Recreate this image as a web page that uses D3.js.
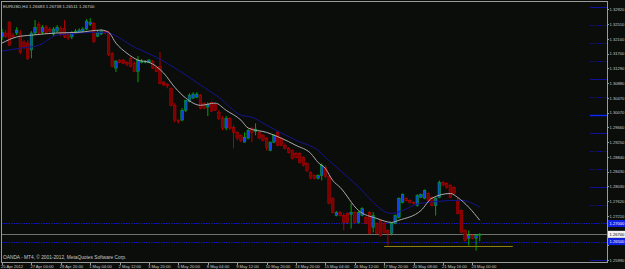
<!DOCTYPE html>
<html>
<head>
<meta charset="utf-8">
<script src="https://cdn.jsdelivr.net/npm/d3@7"></script>
<style>
  html, body { margin: 0; padding: 0; background: #0b0d0b; }
  svg { display: block; }
  text { font-family: "Liberation Sans", "DejaVu Sans", sans-serif; }
</style>
</head>
<body>
<svg width="625" height="269"></svg>
<script>
// --- EURUSD H4 bars ---
const openP = [1.3216,1.3227,1.3257,1.3221,1.3227,1.3227,1.3202,1.3199,1.3180,1.3227,
  1.3251,1.3229,1.3243,1.3238,1.3224,1.3232,1.3240,1.3240,1.3224,1.3216,
  1.3227,1.3229,1.3232,1.3238,1.3251,1.3254,1.3218,1.3224,1.3232,1.3229,
  1.3171,1.3130,1.3152,1.3152,1.3146,1.3157,1.3143,1.3121,1.3146,1.3146,
  1.3146,1.3149,1.3132,1.3135,1.3091,1.3085,1.3074,1.3027,1.2986,1.2986,1.3013,
  1.3038,1.3047,1.3049,1.3055,1.3033,1.3022,1.3035,1.3030,1.3008,1.2991,
  1.2964,1.2991,1.2966,1.2952,1.2944,1.2925,1.2936,1.2964,1.2955,1.2952,
  1.2944,1.2936,1.2902,1.2925,1.2952,1.2936,1.2916,1.2908,1.2902,1.2894,
  1.2894,1.2883,1.2866,1.2842,1.2833,1.2825,1.2833,1.2855,1.2830,1.2770,1.2722,
  1.2731,1.2722,1.2728,1.2725,1.2731,1.2703,1.2722,1.2717,1.2731,1.2689,
  1.2700,1.2709,1.2700,1.2681,1.2673,1.2700,1.2717,1.2758,1.2770,1.2764,
  1.2758,1.2750,1.2772,1.2770,1.2783,1.2772,1.2750,1.2772,1.2814,1.2811,
  1.2806,1.2800,1.2764,1.2736,1.2681,1.2659,1.2667,1.2659,1.26683];
const highP = [1.3238,1.3235,1.3260,1.3227,1.3243,1.3235,1.3207,1.3207,1.3232,1.3263,
  1.3257,1.3249,1.3249,1.3243,1.3243,1.3249,1.3246,1.3263,1.3229,1.3232,
  1.3238,1.3240,1.3243,1.3265,1.3268,1.3257,1.3235,1.3238,1.3235,1.3232,
  1.3174,1.3152,1.3155,1.3155,1.3149,1.3160,1.3149,1.3163,1.3155,1.3152,
  1.3155,1.3152,1.3135,1.3174,1.3094,1.3088,1.3077,1.3033,1.2988,1.3019,1.3041,
  1.3060,1.3063,1.3063,1.3058,1.3035,1.3035,1.3038,1.3033,1.3013,1.2997,
  1.2997,1.2994,1.2972,1.2955,1.2947,1.2952,1.2961,1.2966,1.2977,1.2955,
  1.2947,1.2939,1.2927,1.2947,1.2955,1.2939,1.2922,1.2911,1.2905,1.2897,
  1.2897,1.2886,1.2869,1.2844,1.2836,1.2836,1.2866,1.2861,1.2833,1.2772,1.2734,
  1.2734,1.2728,1.2731,1.2756,1.2734,1.2734,1.2745,1.2720,1.2734,1.2731,
  1.2703,1.2711,1.2703,1.2684,1.2703,1.2725,1.2772,1.2783,1.2772,1.2767,
  1.2761,1.2781,1.2783,1.2794,1.2786,1.2775,1.2772,1.2819,1.2817,1.2814,
  1.2808,1.2803,1.2772,1.2739,1.2684,1.2681,1.2670,1.2670,1.26738];
const lowP = [1.3207,1.3213,1.3191,1.3213,1.3221,1.3168,1.3182,1.3152,1.3157,1.3221,
  1.3221,1.3224,1.3224,1.3227,1.3218,1.3227,1.3218,1.3213,1.3207,1.3210,
  1.3224,1.3227,1.3229,1.3235,1.3246,1.3199,1.3216,1.3221,1.3224,1.3163,
  1.3132,1.3119,1.3143,1.3141,1.3135,1.3132,1.3119,1.3091,1.3143,1.3143,
  1.3143,1.3127,1.3119,1.3085,1.3080,1.3074,1.3024,1.2980,1.2977,1.2983,1.3008,
  1.3035,1.3044,1.3047,1.3016,1.3016,1.2997,1.3008,1.3011,1.2986,1.2958,
  1.2958,1.2958,1.2908,1.2930,1.2925,1.2925,1.2933,1.2925,1.2944,1.2933,
  1.2927,1.2902,1.2900,1.2922,1.2914,1.2914,1.2905,1.2894,1.2877,1.2880,
  1.2866,1.2858,1.2842,1.2822,1.2822,1.2822,1.2819,1.2825,1.2753,1.2728,1.2720,
  1.2720,1.2681,1.2698,1.2686,1.2700,1.2700,1.2720,1.2698,1.2670,1.2675,
  1.2670,1.2664,1.2673,1.2639,1.2667,1.2698,1.2714,1.2756,1.2761,1.2756,
  1.2753,1.2747,1.2770,1.2767,1.2761,1.2747,1.2722,1.2770,1.2803,1.2797,
  1.2770,1.2781,1.2725,1.2673,1.2650,1.2639,1.2656,1.2625,1.26511];
const closeP = [1.3229,1.3218,1.3193,1.3218,1.3235,1.3174,1.3188,1.3157,1.3227,1.3243,
  1.3227,1.3243,1.3229,1.3232,1.3238,1.3243,1.3224,1.3218,1.3213,1.3227,
  1.3232,1.3235,1.3238,1.3260,1.3257,1.3204,1.3229,1.3232,1.3227,1.3168,
  1.3135,1.3149,1.3146,1.3143,1.3141,1.3135,1.3121,1.3152,1.3149,1.3149,
  1.3152,1.3130,1.3121,1.3088,1.3083,1.3080,1.3027,1.2986,1.2983,1.3013,1.3041,
  1.3055,1.3058,1.3058,1.3019,1.3019,1.3030,1.3011,1.3013,1.2991,1.2964,
  1.2991,1.2964,1.2952,1.2936,1.2930,1.2939,1.2958,1.2952,1.2961,1.2936,
  1.2930,1.2911,1.2925,1.2944,1.2916,1.2916,1.2908,1.2897,1.2880,1.2883,
  1.2869,1.2861,1.2847,1.2828,1.2825,1.2833,1.2861,1.2830,1.2756,1.2731,1.2731,
  1.2722,1.2703,1.2703,1.2731,1.2703,1.2731,1.2742,1.2700,1.2673,1.2722,
  1.2673,1.2667,1.2675,1.2673,1.2700,1.2722,1.2770,1.2781,1.2764,1.2758,
  1.2756,1.2778,1.2781,1.2792,1.2764,1.2750,1.2770,1.2814,1.2806,1.2800,
  1.2772,1.2783,1.2728,1.2675,1.2653,1.2667,1.2659,1.2667,1.26700];

// moving averages, [bar, price]
const fastMA = [[0,1.3199],[4,1.3216],[8,1.3221],[15,1.3227],[21,1.3229],[27,1.3235],
  [29,1.3229],[31,1.3199],[34,1.3171],[37,1.3152],[40,1.3146],[44,1.3116],[47,1.3077],
  [50,1.3047],[54,1.3027],[58,1.3033],[61,1.3013],[65,1.2986],[67,1.2964],[72,1.2952],
  [76,1.2936],[80,1.2916],[84,1.2894],[86,1.2869],[88,1.2852],[90,1.2819],[92,1.2800],
  [97,1.2736],[102,1.2714],[106,1.2703],[108,1.2709],[114,1.2736],[117,1.2770],
  [122,1.2783],[124,1.2772],[127,1.2745],[130,1.2709]];
const slowMA = [[0,1.3177],[5,1.3185],[10,1.3193],[15,1.3221],[27,1.3229],[29,1.3227],
  [36,1.3188],[42,1.3160],[48,1.3124],[54,1.3083],[59,1.3049],[65,1.3000],[68,1.2994],
  [72,1.2972],[80,1.2930],[86,1.2902],[88,1.2883],[92,1.2847],[96,1.2811],[106,1.2728],
  [114,1.2756],[125,1.2764],[130,1.2745]];

const priceTicks = ["1.32920","1.32510","1.32100","1.31700","1.31290","1.30880","1.30470",
  "1.30070","1.29660","1.29250","1.28840","1.28430","1.28030","1.27620","1.27210",
  "1.26800","1.26400","1.25990"];
const timeTicks = ["25 Apr 2012","27 Apr 00:00","29 Apr 20:00","1 May 04:00","2 May 12:00",
  "3 May 20:00","6 May 20:00","8 May 04:00","9 May 12:00","10 May 20:00","13 May 20:00",
  "15 May 04:00","16 May 12:00","17 May 20:00","20 May 08:00","21 May 16:00","23 May 00:00"];

// round-number levels drawn at the price scale, and the two long ones
const roundLevels = [1.3300,1.3250,1.3200,1.3150,1.3100,1.3050,1.3000,1.2950,
  1.2900,1.2850,1.2800,1.2750,1.2600];
const fullLevels = [1.2700, 1.2650];
const bidPrice = 1.26700;
const supportLine = { fromBar: 104, toBar: 139, price: 1.2639 };
const headerText = "EURUSD,H4  1.26683 1.26738 1.26511 1.26700";
const footerText = "OANDA - MT4, \u00a9 2001-2012, MetaQuotes Software Corp.";

// --- layout ---
const W = 625, H = 269;
const plot = { left: 1, top: 1, right: 607, bottom: 262 };
const n = closeP.length;
const bars = d3.range(n).map(i => ({ i, o: openP[i], h: highP[i], l: lowP[i], c: closeP[i] }));

const x = d3.scaleLinear().domain([0, n - 1]).range([2, 479.75]);
const y = d3.scaleLinear().domain([1.25935, 1.33127]).range([plot.bottom, plot.top + 1]);

const svg = d3.select("svg");
svg.append("rect").attr("width", W).attr("height", H).attr("fill", "#0b0d0b");

const clipId = "plotclip";
svg.append("clipPath").attr("id", clipId).append("rect")
  .attr("x", plot.left).attr("y", plot.top)
  .attr("width", plot.right - plot.left).attr("height", plot.bottom - plot.top);
const g = svg.append("g").attr("clip-path", `url(#${clipId})`);

// short level marks next to the price scale
const solidSet = new Set([1.3300, 1.3100, 1.3000, 1.2950, 1.2800, 1.2600]);
g.selectAll(".lvl").data(roundLevels).join("line")
  .attr("x1", 590).attr("x2", plot.right)
  .attr("y1", d => Math.round(y(d)) + 0.5).attr("y2", d => Math.round(y(d)) + 0.5)
  .attr("stroke", d => d === 1.3000 ? "#0a28ff" : "#10109c")
  .attr("stroke-width", d => d === 1.3000 ? 1.4 : 1)
  .attr("stroke-dasharray", d => solidSet.has(d) ? null : "1.5,1");

g.selectAll(".full").data(fullLevels).join("line")
  .attr("x1", plot.left).attr("x2", plot.right)
  .attr("y1", d => Math.round(y(d)) + 0.5).attr("y2", d => Math.round(y(d)) + 0.5)
  .attr("stroke", "#1414c8").attr("stroke-dasharray", "1.5,1");

g.append("line")
  .attr("x1", plot.left).attr("x2", plot.right)
  .attr("y1", Math.round(y(bidPrice)) + 0.5).attr("y2", Math.round(y(bidPrice)) + 0.5)
  .attr("stroke", "#6e7370");

g.append("line")
  .attr("x1", x(supportLine.fromBar)).attr("x2", x(supportLine.toBar))
  .attr("y1", Math.round(y(supportLine.price)) + 0.5).attr("y2", Math.round(y(supportLine.price)) + 0.5)
  .attr("stroke", "#8a7f10");

// candles
const bw = 2.6;
const cg = g.selectAll(".bar").data(bars).join("g");
cg.append("line")
  .attr("x1", d => x(d.i)).attr("x2", d => x(d.i))
  .attr("y1", d => y(d.h)).attr("y2", d => y(d.l))
  .attr("stroke", d => d.c >= d.o ? "#00b400" : "#c00000").attr("stroke-width", 0.9);
cg.append("rect")
  .attr("x", d => x(d.i) - bw / 2).attr("width", bw)
  .attr("y", d => y(Math.max(d.o, d.c)))
  .attr("height", d => Math.max(0.8, Math.abs(y(d.o) - y(d.c))))
  .attr("fill", d => d.c >= d.o ? "#1040f0" : "#7a0000")
  .attr("stroke", d => d.c >= d.o ? "#00b400" : "#c00000").attr("stroke-width", 0.5);

// moving averages
const line = d3.line().x(d => x(d[0])).y(d => y(d[1])).curve(d3.curveMonotoneX);
g.append("path").datum(slowMA).attr("d", line)
  .attr("fill", "none").attr("stroke", "#14148c").attr("stroke-width", 1);
g.append("path").datum(fastMA).attr("d", line)
  .attr("fill", "none").attr("stroke", "#aaaaaa").attr("stroke-width", 1);

// frame
svg.append("rect")
  .attr("x", plot.left + 0.5).attr("y", plot.top + 0.5)
  .attr("width", plot.right - plot.left).attr("height", plot.bottom - plot.top)
  .attr("fill", "none").attr("stroke", "#9a9a9a");

// price boxes on the scale (they cover the grid labels they sit on)
const boxes = [
  { p: fullLevels[0], fill: "#1020e0", txt: "#ffffff" },
  { p: bidPrice, fill: "#f2f2f2", txt: "#000000" },
  { p: fullLevels[1], fill: "#1020e0", txt: "#ffffff" }
];
const covered = d => boxes.some(b => Math.abs(y(+d) - y(b.p)) < 4.5);

// price scale
const pa = svg.append("g");
pa.selectAll("line").data(priceTicks).join("line")
  .attr("x1", plot.right).attr("x2", plot.right + 2)
  .attr("y1", d => Math.round(y(+d)) + 0.5).attr("y2", d => Math.round(y(+d)) + 0.5)
  .attr("stroke", "#9a9a9a");
pa.selectAll("text").data(priceTicks.filter(d => !covered(d))).join("text")
  .attr("x", plot.right + 2.5).attr("y", d => y(+d) + 1.6)
  .attr("fill", "#c8c8c8").attr("font-size", 4.1)
  .text(d => d);

boxes.forEach(b => {
  const yy = y(b.p);
  pa.append("rect").attr("x", plot.right + 1).attr("y", yy - 3.5)
    .attr("width", 18).attr("height", 7).attr("fill", b.fill);
  pa.append("text").attr("x", plot.right + 2.5).attr("y", yy + 1.6)
    .attr("fill", b.txt).attr("font-size", 4.1)
    .text(b.p.toFixed(5));
});

// time scale, one label every 8 bars
const ta = svg.append("g");
ta.selectAll("line").data(timeTicks).join("line")
  .attr("x1", (d, k) => Math.round(x(k * 8)) + 0.5).attr("x2", (d, k) => Math.round(x(k * 8)) + 0.5)
  .attr("y1", plot.bottom).attr("y2", plot.bottom + 3)
  .attr("stroke", "#9a9a9a");
ta.selectAll("text").data(timeTicks).join("text")
  .attr("x", (d, k) => x(k * 8) - 1).attr("y", 267.5)
  .attr("fill", "#c8c8c8").attr("font-size", 4.1)
  .text(d => d);

// header and footer
svg.append("text").attr("x", 3).attr("y", 7.5)
  .attr("fill", "#d0d0d0").attr("font-size", 4.3)
  .text(headerText);
svg.append("text").attr("x", 3).attr("y", 259)
  .attr("fill", "#c8c8c8").attr("font-size", 4.8)
  .text(footerText);
</script>
</body>
</html>
